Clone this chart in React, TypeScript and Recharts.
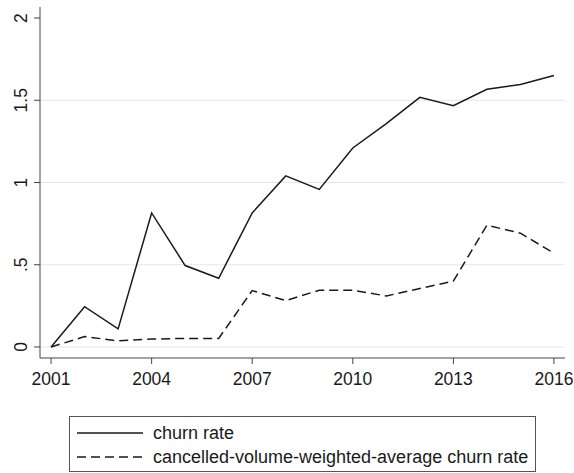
import React from "react";
import { LineChart, Line, XAxis, YAxis, CartesianGrid, Legend } from "recharts";

const years = [2001, 2002, 2003, 2004, 2005, 2006, 2007, 2008, 2009, 2010, 2011, 2012, 2013, 2014, 2015, 2016];
const churnRate = [0, 0.245, 0.11, 0.815, 0.495, 0.418, 0.815, 1.04, 0.958, 1.21, 1.358, 1.518, 1.467, 1.567, 1.596, 1.65];
const weightedChurn = [0, 0.063, 0.037, 0.048, 0.052, 0.052, 0.343, 0.282, 0.345, 0.345, 0.31, 0.356, 0.4, 0.74, 0.692, 0.57];
const xTicks = [2001, 2004, 2007, 2010, 2013, 2016];
const yTicks = [0, 0.5, 1, 1.5, 2];
const gridValues = [0, 0.5, 1, 1.5];
const seriesNames = ["churn rate", "cancelled-volume-weighted-average churn rate"];

const data = years.map((y, i) => ({ year: y, churn: churnRate[i], weighted: weightedChurn[i] }));

const FONT = "'Liberation Sans', Arial, sans-serif";
const INK = "#1a1a1a";

const fmtY = (v: number) => {
  if (v === 0) return "0";
  const s = String(v);
  return s.startsWith("0.") ? s.slice(1) : s;
};

const YTick = (props: any) => {
  const { x, y, payload } = props;
  const bx = x - 5;
  return (
    <text
      x={bx}
      y={y}
      transform={`rotate(-90, ${bx}, ${y})`}
      textAnchor="middle"
      fontFamily={FONT}
      fontSize={17.5}
      fill={INK}
    >
      {fmtY(payload.value)}
    </text>
  );
};

const XTick = (props: any) => {
  const { x, y, payload } = props;
  return (
    <text x={x} y={y + 19} textAnchor="middle" fontFamily={FONT} fontSize={17.5} fill={INK}>
      {payload.value}
    </text>
  );
};

const LegendBox = () => (
  <div
    style={{
      width: 467,
      height: 56,
      border: "1px solid #555",
      boxSizing: "border-box",
      background: "#fff",
      fontFamily: FONT,
      fontSize: 18,
      color: INK,
      position: "relative",
    }}
  >
    {seriesNames.map((name, i) => (
      <div
        key={name}
        style={{ position: "absolute", left: 7, top: 5 + i * 24, height: 22, display: "flex", alignItems: "center" }}
      >
        <svg width={66} height={4} style={{ display: "block" }}>
          <line
            x1={0}
            y1={2}
            x2={66}
            y2={2}
            stroke={INK}
            strokeWidth={1.5}
            strokeDasharray={i === 1 ? "9 5" : undefined}
          />
        </svg>
        <span style={{ marginLeft: 10, whiteSpace: "nowrap" }}>{name}</span>
      </div>
    ))}
  </div>
);

export default function App() {
  return (
    <div style={{ position: "absolute", left: 0, top: 0, width: 574, height: 473, background: "#fff" }}>
      <LineChart width={574} height={473} data={data} margin={{ top: 7, right: 9, left: 0, bottom: 75 }}>
        <CartesianGrid horizontal vertical={false} stroke="#e6e6e6" strokeWidth={1.2} horizontalValues={gridValues} />
        <XAxis
          dataKey="year"
          type="number"
          domain={[2000.67, 2016.33]}
          allowDataOverflow
          ticks={xTicks}
          tick={<XTick />}
          tickSize={6}
          height={40}
          stroke="#444"
          tickLine={{ stroke: "#444" }}
        />
        <YAxis
          type="number"
          domain={[-0.067, 2.067]}
          allowDataOverflow
          ticks={yTicks}
          tick={<YTick />}
          tickSize={6}
          width={40}
          stroke="#444"
          tickLine={{ stroke: "#444" }}
        />
        <Legend
          layout="horizontal"
          verticalAlign="middle"
          align="center"
          wrapperStyle={{ left: 69, top: 416, width: 467, height: 56 }}
          content={<LegendBox />}
        />
        <Line
          type="linear"
          dataKey="churn"
          name={seriesNames[0]}
          stroke={INK}
          strokeWidth={1.5}
          dot={false}
          isAnimationActive={false}
        />
        <Line
          type="linear"
          dataKey="weighted"
          name={seriesNames[1]}
          stroke={INK}
          strokeWidth={1.5}
          strokeDasharray="9 5"
          dot={false}
          isAnimationActive={false}
        />
      </LineChart>
    </div>
  );
}
